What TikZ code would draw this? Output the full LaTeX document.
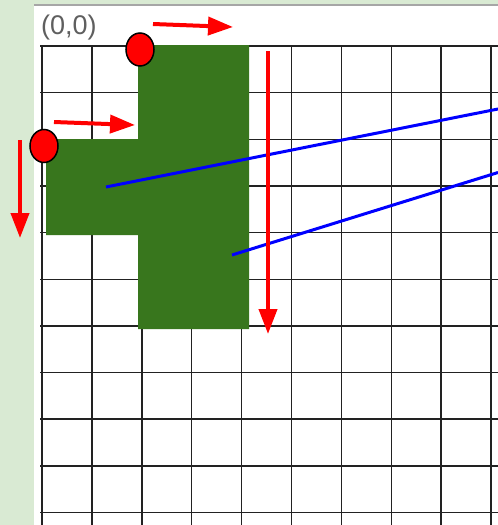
\documentclass[tikz,border=0pt]{standalone}
\usepackage{fontspec}
\newfontfamily\labelfont{Liberation Sans}
\usetikzlibrary{arrows.meta,shapes.geometric}

\definecolor{pagegreen}{HTML}{D9EAD3}
\definecolor{blockgreen}{HTML}{38761D}
\definecolor{gridgray}{HTML}{222222}
\definecolor{labelgray}{HTML}{5F5F5F}

\begin{document}
\begin{tikzpicture}[
    x=1pt, y=-1pt,
    gridline/.style={line width=1.5pt, draw=gridgray},
    redarrow/.style={-{Triangle[length=25pt,width=18pt]}, line width=4pt, draw=red},
    blueline/.style={line width=3pt, draw=blue},
    dot/.style={ellipse, draw=black, line width=1.5pt, fill=red,
                minimum width=28pt, minimum height=33pt, inner sep=0pt}
  ]
    \useasboundingbox (0,0) rectangle (498,525);
    % page behind the sheet
    \fill[pagegreen] (0,0) rectangle (498,525);
    \fill[white] (34,5) rectangle (498,525);
    \draw[gray!70, line width=1.2pt] (34,5) -- (498,5);

    % grid
    \foreach \i in {0,...,9}
      \draw[gridline] (42+49.9*\i,46) -- (42+49.9*\i,525);
    \foreach \j in {0,...,10}
      \draw[gridline] (40,46+46.65*\j) -- (498,46+46.65*\j);

    % the block
    \fill[blockgreen] (138,45) -- (249,45) -- (249,329) -- (138,329)
      -- (138,235) -- (46,235) -- (46,139) -- (138,139) -- cycle;

    \draw[blueline] (106,187) -- (498,109);
    \draw[blueline] (232,255) -- (498,172.5);

    \draw[redarrow] (153,24) -- (233,27);
    \draw[redarrow] (54,122) -- (135,125);
    \draw[redarrow] (20,140) -- (20,238);
    \draw[redarrow] (268,51) -- (268,334);

    \node[dot] (dotTop) at (140,49.5) {};
    \node[dot] (dotLeft) at (44,146) {};

    \node[font=\labelfont\fontsize{27}{27}\selectfont, text=labelgray,
          anchor=west, inner sep=0pt] (origin) at (41,27.5) {(0,0)};
  \end{tikzpicture}
\end{document}
